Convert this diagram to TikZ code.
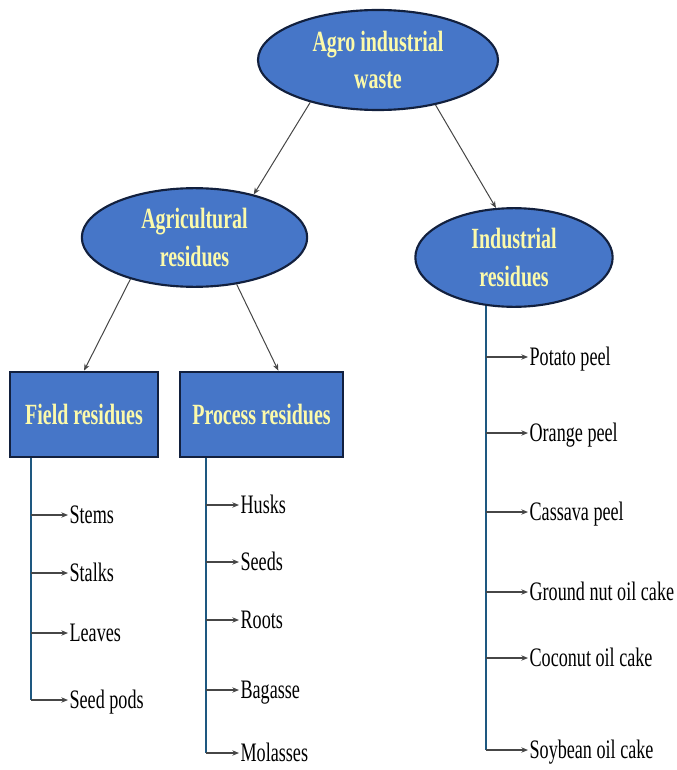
\documentclass[tikz,border=0pt]{standalone}
\usepackage{fontspec}
\setmainfont{Liberation Serif}
\newfontfamily\narrowfont{Liberation Serif}[FakeStretch=0.68]
\usepackage{xcolor}
\usepackage{tikz}
\usetikzlibrary{arrows.meta, positioning, shapes.geometric, calc}

\definecolor{nodeblue}{RGB}{70,118,200}
\definecolor{navyline}{RGB}{18,32,62}
\definecolor{labelyellow}{RGB}{252,250,170}
\definecolor{trunkteal}{RGB}{30,88,128}
\definecolor{arrowgray}{RGB}{70,70,70}

\begin{document}
\begin{tikzpicture}[
    x=0.75pt, y=-0.75pt,
    oval/.style={ellipse, draw=navyline, line width=1.6pt, fill=nodeblue, text=labelyellow, align=center, inner sep=0pt, font=\narrowfont\fontsize{22}{28}\selectfont\bfseries},
    box/.style={rectangle, draw=navyline, line width=1.8pt, fill=nodeblue, text=labelyellow, minimum height=64pt, font=\narrowfont\fontsize{22}{26}\selectfont\bfseries},
    leaf/.style={anchor=west, inner sep=1pt, text height=13pt, text depth=0pt, font=\narrowfont\fontsize{20}{22}\selectfont},
    arr/.style={-{Stealth[length=5pt, width=4pt]}, line width=0.75pt, draw=arrowgray},
    branch/.style={-{Stealth[length=5pt, width=4pt]}, line width=0.8pt, draw=arrowgray},
    trunk/.style={line width=1.7pt, draw=trunkteal},
    >=stealth
]
\useasboundingbox (0,0) rectangle (676,770);

% --- Top level ---
\node[oval, minimum width=180pt, minimum height=75pt] (top) at (378,60) {Agro industrial\\waste};
\node[oval, minimum width=169pt, minimum height=74pt] (agr) at (194.5,237.5) {Agricultural\\residues};
\node[oval, minimum width=148pt, minimum height=74pt] (ind) at (514,257.5) {Industrial\\residues};
\draw[arr] (top.212) -- (agr.36);
\draw[arr] (top.322) -- (ind.110);

% --- Agricultural residues ---
\node[box, minimum width=111pt] (fld) at (84,414.5) {Field residues};
\node[box, minimum width=122pt] (prc) at (261.5,414.5) {Process residues};
\draw[arr] (agr.213) -- (fld.north);
\draw[arr] (agr.312) -- (prc.69);

% --- Field residues ---
\node[leaf] (f_1) at (68,515) {Stems};
\node[leaf] (f_2) at (68,573) {Stalks};
\node[leaf] (f_3) at (68,633) {Leaves};
\node[leaf] (f_4) at (68,700) {Seed pods};
\coordinate (f_t) at ($(fld.south west)+(22,0)$);
\draw[trunk] (f_t) -- (f_t |- f_4);
\draw[branch] (f_t |- f_1) -- (f_1);
\draw[branch] (f_t |- f_2) -- (f_2);
\draw[branch] (f_t |- f_3) -- (f_3);
\draw[branch] (f_t |- f_4) -- (f_4);

% --- Process residues ---
\node[leaf] (p_1) at (239,505) {Husks};
\node[leaf] (p_2) at (239,562) {Seeds};
\node[leaf] (p_3) at (239,620) {Roots};
\node[leaf] (p_4) at (239,690) {Bagasse};
\node[leaf] (p_5) at (239,753) {Molasses};
\coordinate (p_t) at ($(prc.south west)+(27,0)$);
\draw[trunk] (p_t) -- (p_t |- p_5);
\draw[branch] (p_t |- p_1) -- (p_1);
\draw[branch] (p_t |- p_2) -- (p_2);
\draw[branch] (p_t |- p_3) -- (p_3);
\draw[branch] (p_t |- p_4) -- (p_4);
\draw[branch] (p_t |- p_5) -- (p_5);

% --- Industrial residues ---
\node[leaf] (i_1) at (528,357) {Potato peel};
\node[leaf] (i_2) at (528,433) {Orange peel};
\node[leaf] (i_3) at (528,512) {Cassava peel};
\node[leaf] (i_4) at (528,592) {Ground nut oil cake};
\node[leaf] (i_5) at (528,658) {Coconut oil cake};
\node[leaf] (i_6) at (528,750) {Soybean oil cake};
\coordinate (i_t) at (ind.240);
\draw[trunk] (i_t) -- (i_t |- i_6);
\draw[branch] (i_t |- i_1) -- (i_1);
\draw[branch] (i_t |- i_2) -- (i_2);
\draw[branch] (i_t |- i_3) -- (i_3);
\draw[branch] (i_t |- i_4) -- (i_4);
\draw[branch] (i_t |- i_5) -- (i_5);
\draw[branch] (i_t |- i_6) -- (i_6);
\end{tikzpicture}
\end{document}
